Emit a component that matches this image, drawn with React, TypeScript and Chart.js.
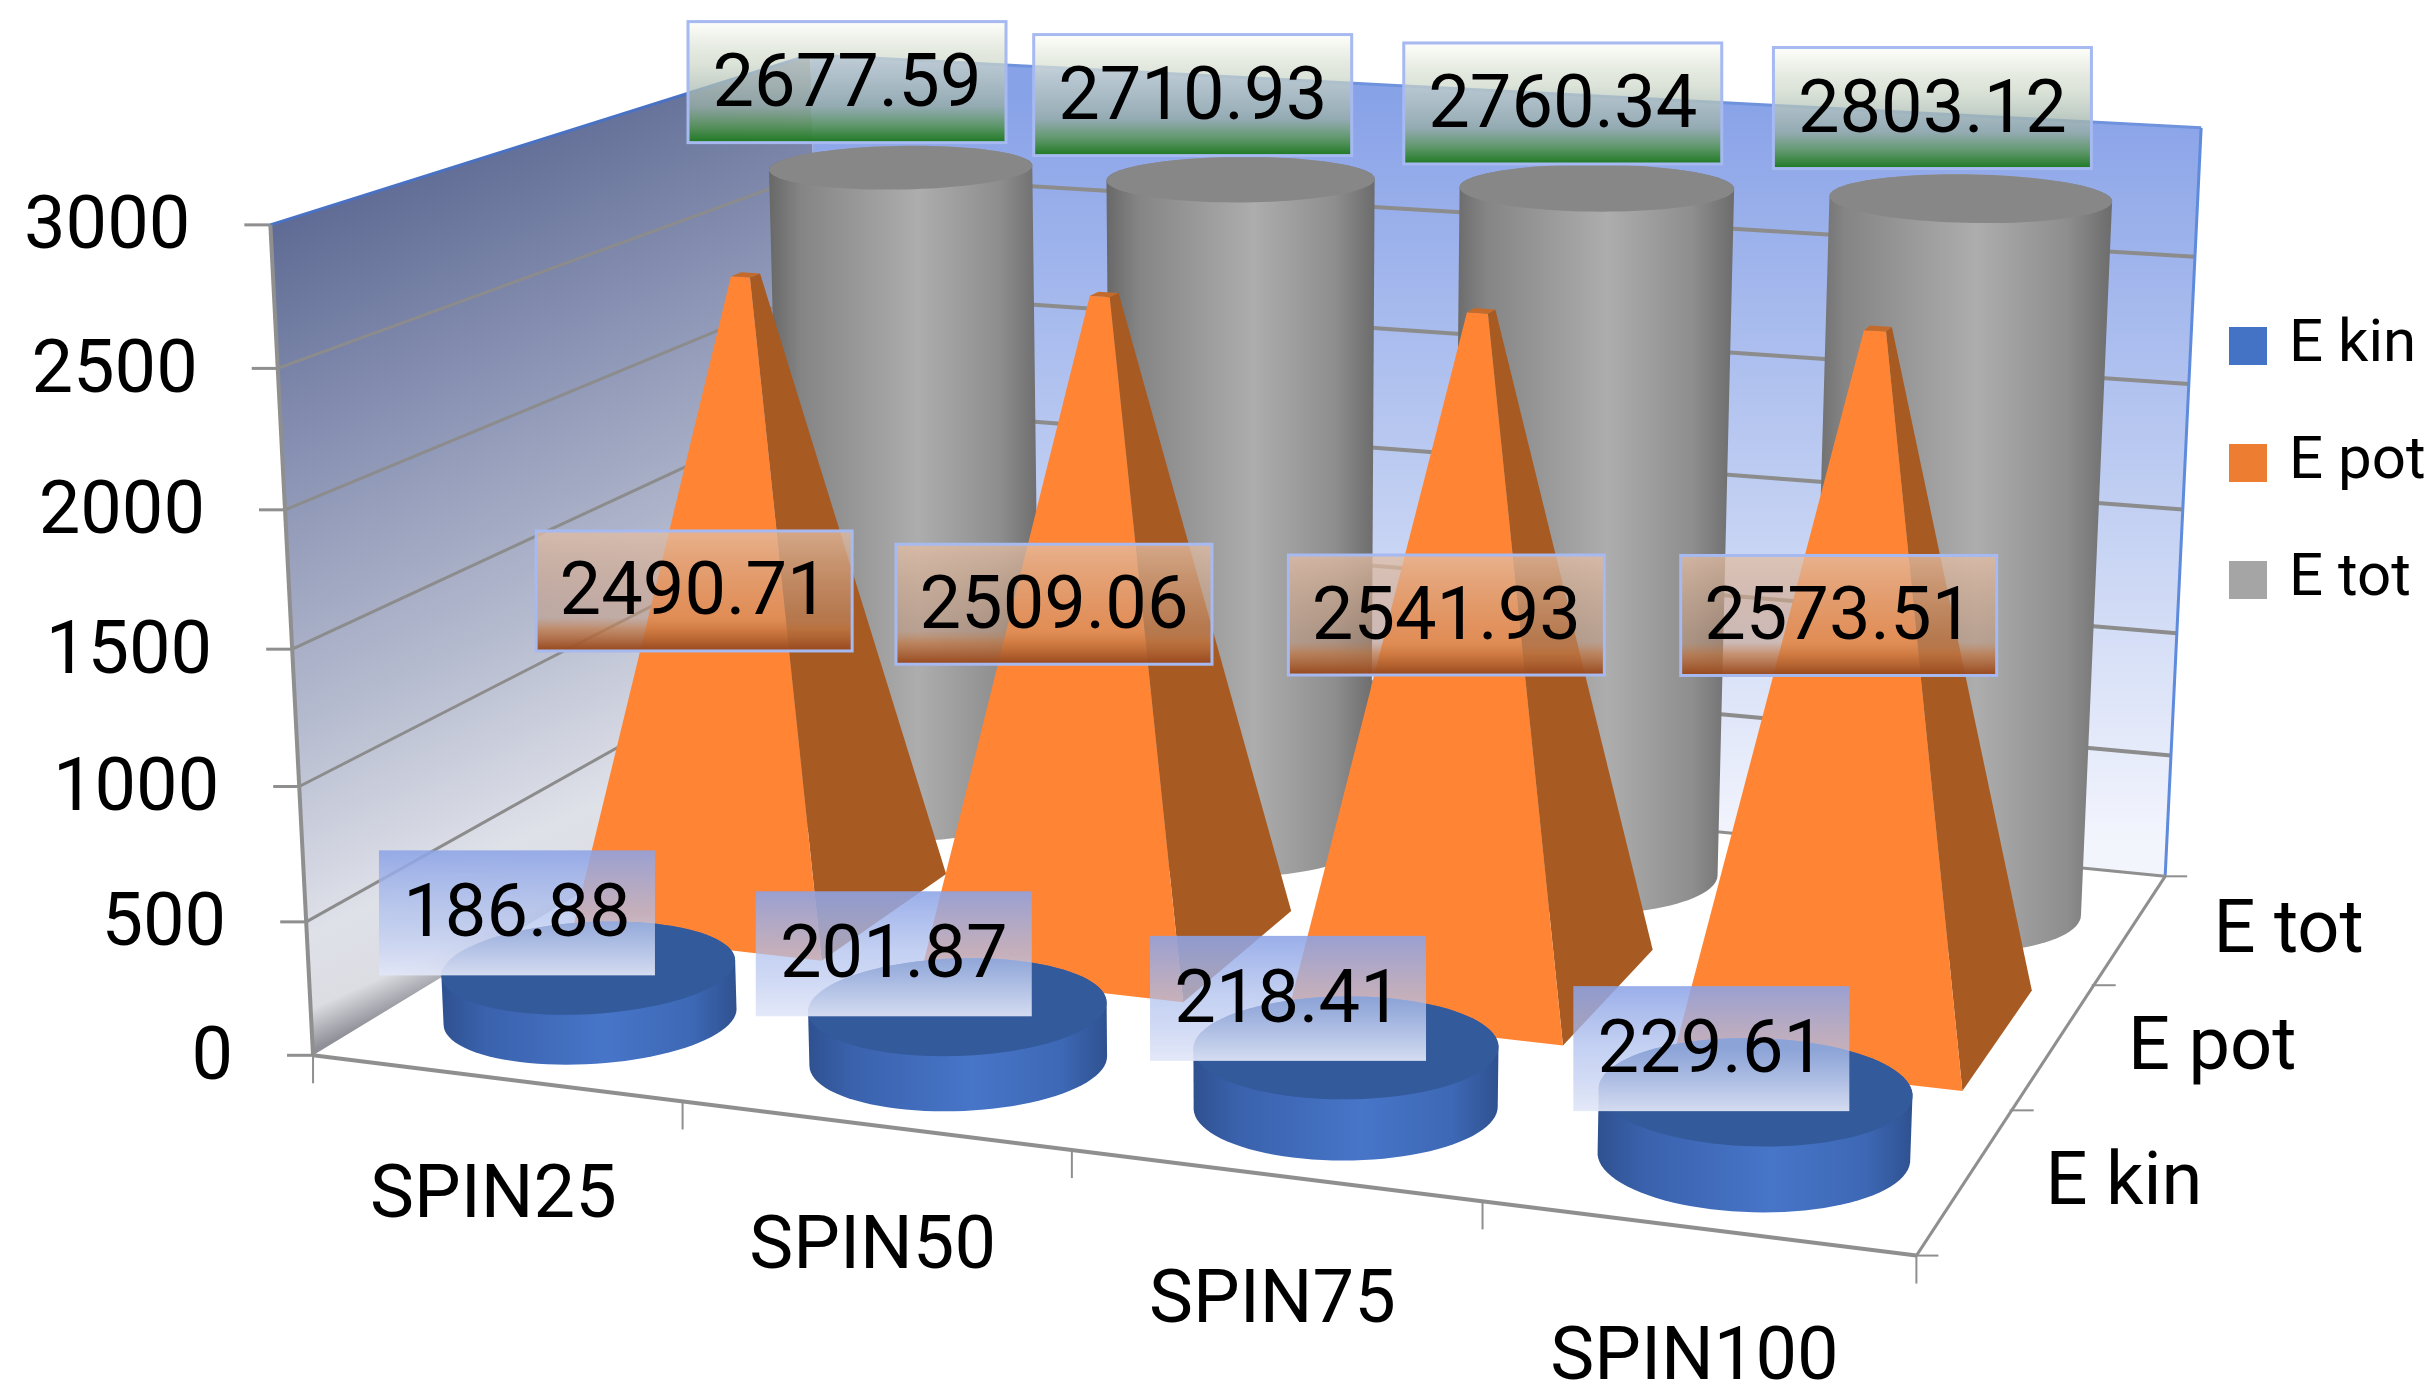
import React, { useEffect, useRef } from "react";
import { Chart, BarController, registerables } from "chart.js";

Chart.register(...registerables);

const categories = ["SPIN25", "SPIN50", "SPIN75", "SPIN100"];
const seriesNames = ["E kin", "E pot", "E tot"];
const eKin = [186.88, 201.87, 218.41, 229.61];
const ePot = [2490.71, 2509.06, 2541.93, 2573.51];
const eTot = [2677.59, 2710.93, 2760.34, 2803.12];
const yMax = 3000;
const yStep = 500;

const FONT = "Roboto, 'Open Sans', sans-serif";
const W = 2434;
const H = 1396;

// layout: camera calibration of the 3D box, [u, v, h] -> [px, py]
const CALIBRATION: number[][] = [
  [0, 0, 0, 311, 1051],
  [1, 0, 0, 1918, 1257],
  [1, 1, 0, 2164, 875],
  [0, 1, 0, 828, 747],
  [0, 0, 1, 271, 228],
  [1, 1, 1, 2201, 128],
  [0, 1, 1, 810, 52],
];

// layout: fine placement of the value boxes, pixels per series and category
const LABEL_NUDGE: number[][][] = [
  [[-2, 8], [6, 10], [12, 14], [26, 20]],
  [[-60, -3], [-53, -19], [-31, -37], [-28, -67]],
  [[-14, 20], [-8, 21], [6, 21], [2, 15]],
];

function solve(A: number[][], b: number[]) {
  const n = b.length;
  const M = A.map((r, i) => [...r, b[i]]);
  for (let c = 0; c < n; c++) {
    let p = c;
    for (let r = c + 1; r < n; r++) if (Math.abs(M[r][c]) > Math.abs(M[p][c])) p = r;
    [M[c], M[p]] = [M[p], M[c]];
    for (let r = 0; r < n; r++) {
      if (r === c) continue;
      const f = M[r][c] / M[c][c];
      for (let k = c; k <= n; k++) M[r][k] -= f * M[c][k];
    }
  }
  return M.map((r, i) => r[n] / r[i]);
}

function fitCamera() {
  const rows: number[][] = [];
  const rhs: number[] = [];
  for (const [x, y, z, X0, Y0] of CALIBRATION) {
    const X = X0 / 1000;
    const Y = Y0 / 1000;
    rows.push([x, y, z, 1, 0, 0, 0, 0, -X * x, -X * y, -X * z]);
    rhs.push(X);
    rows.push([0, 0, 0, 0, x, y, z, 1, -Y * x, -Y * y, -Y * z]);
    rhs.push(Y);
  }
  const n = 11;
  const AtA = Array.from({ length: n }, () => new Array(n).fill(0));
  const Atb = new Array(n).fill(0);
  rows.forEach((r, i) => {
    for (let a = 0; a < n; a++) {
      Atb[a] += r[a] * rhs[i];
      for (let b = 0; b < n; b++) AtA[a][b] += r[a] * r[b];
    }
  });
  return solve(AtA, Atb);
}
const CAM = fitCamera();
type P = [number, number];
function project(u: number, v: number, h: number): P {
  const w = CAM[8] * u + CAM[9] * v + CAM[10] * h + 1;
  return [
    (1000 * (CAM[0] * u + CAM[1] * v + CAM[2] * h + CAM[3])) / w,
    (1000 * (CAM[4] * u + CAM[5] * v + CAM[6] * h + CAM[7])) / w,
  ];
}

// world helpers that read through the chart's own scales
function worldU(chart: any, i: number) {
  const s = chart.scales.x;
  return (s.getPixelForValue(i) - s.left) / s.width;
}
function worldV(chart: any, j: number) {
  const s = chart.scales.z;
  return (s.getPixelForValue(j) - s.left) / s.width;
}
function worldH(chart: any, val: number) {
  const s = chart.scales.y;
  return (s.bottom - s.getPixelForValue(val)) / s.height;
}

function poly(ctx: CanvasRenderingContext2D, pts: P[]) {
  ctx.beginPath();
  pts.forEach((p, i) => (i ? ctx.lineTo(p[0], p[1]) : ctx.moveTo(p[0], p[1])));
  ctx.closePath();
}
function hull(points: P[]): P[] {
  const s = [...points].sort((a, b) => a[0] - b[0] || a[1] - b[1]);
  const cross = (o: P, a: P, b: P) => (a[0] - o[0]) * (b[1] - o[1]) - (a[1] - o[1]) * (b[0] - o[0]);
  const lo: P[] = [];
  for (const p of s) {
    while (lo.length >= 2 && cross(lo[lo.length - 2], lo[lo.length - 1], p) <= 0) lo.pop();
    lo.push(p);
  }
  const up: P[] = [];
  for (const p of s.slice().reverse()) {
    while (up.length >= 2 && cross(up[up.length - 2], up[up.length - 1], p) <= 0) up.pop();
    up.push(p);
  }
  return lo.slice(0, -1).concat(up.slice(0, -1));
}

const HALF_U = 0.09;
const HALF_V = 0.125;

function drawCylinder(ctx: CanvasRenderingContext2D, u: number, v: number, h: number, stops: [number, string][], topColor: string) {
  const bottom: P[] = [];
  const top: P[] = [];
  for (let a = 0; a < 96; a++) {
    const t = (a / 96) * Math.PI * 2;
    const cu = u + HALF_U * Math.cos(t);
    const cv = v + HALF_V * Math.sin(t);
    bottom.push(project(cu, cv, 0));
    top.push(project(cu, cv, h));
  }
  const shape = hull(bottom.concat(top));
  const xs = shape.map((p) => p[0]);
  const g = ctx.createLinearGradient(Math.min(...xs), 0, Math.max(...xs), 0);
  stops.forEach(([o, c]) => g.addColorStop(o, c));
  poly(ctx, shape);
  ctx.fillStyle = g;
  ctx.fill();
  poly(ctx, top);
  ctx.fillStyle = topColor;
  ctx.fill();
}

function drawPyramid(ctx: CanvasRenderingContext2D, u: number, v: number, h: number) {
  const k = 0.075;
  const b = (su: number, sv: number) => project(u + su * HALF_U, v + sv * 0.135, 0);
  const t = (su: number, sv: number) => project(u + su * HALF_U * k, v + sv * 0.135 * k, h);
  poly(ctx, [b(1, -1), b(1, 1), t(1, 1), t(1, -1)]);
  ctx.fillStyle = "#a75a22";
  ctx.fill();
  poly(ctx, [b(-1, -1), b(1, -1), t(1, -1), t(-1, -1)]);
  ctx.fillStyle = "#ff8433";
  ctx.fill();
  poly(ctx, [t(-1, -1), t(1, -1), t(1, 1), t(-1, 1)]);
  ctx.fillStyle = "#c46a2b";
  ctx.fill();
}

const GRAY_STOPS: [number, string][] = [
  [0, "#686868"],
  [0.12, "#858585"],
  [0.55, "#adadad"],
  [0.85, "#8e8e8e"],
  [1, "#6c6c6c"],
];
const BLUE_STOPS: [number, string][] = [
  [0, "#2f5190"],
  [0.15, "#3a62ad"],
  [0.55, "#4775c8"],
  [0.85, "#3d68b5"],
  [1, "#2f5190"],
];

class Shape3DController extends BarController {
  static id = "shape3d";
  draw() {
    const chart: any = this.chart;
    const ctx = chart.ctx;
    const j = this.index;
    const n = chart.data.labels.length;
    for (let i = 0; i < n; i++) {
      const val = (this as any).getParsed(i).y;
      const u = worldU(chart, i);
      const v = worldV(chart, j);
      const h = worldH(chart, val);
      if (j === 1) drawPyramid(ctx, u, v, h);
      else if (j === 2) drawCylinder(ctx, u, v, h, GRAY_STOPS, "#878787");
      else drawCylinder(ctx, u, v, h, BLUE_STOPS, "#335a9b");
    }
  }
}
Chart.register(Shape3DController as any);

function line(ctx: CanvasRenderingContext2D, a: P, b: P, color: string, width: number) {
  ctx.beginPath();
  ctx.moveTo(a[0], a[1]);
  ctx.lineTo(b[0], b[1]);
  ctx.strokeStyle = color;
  ctx.lineWidth = width;
  ctx.stroke();
}

const GRID = "#8c8c8c";
const AXIS = "#8f8f8f";
const TICK_FONT = `74px ${FONT}`;

const box3dPlugin = {
  id: "box3d",
  afterLayout(chart: any) {
    const l = chart.legend;
    l.left = 2180;
    l.right = W;
    l.top = 259;
    l.bottom = 800;
  },
  beforeDatasetsDraw(chart: any) {
    const ctx: CanvasRenderingContext2D = chart.ctx;
    const A = project(0, 0, 0);
    const B = project(1, 0, 0);
    const C = project(1, 1, 0);
    const D = project(0, 1, 0);
    const E = project(0, 0, 1);
    const F = project(1, 1, 1);
    const G = project(0, 1, 1);
    ctx.save();
    // walls
    const lg = ctx.createLinearGradient(271, 225, 587, 927);
    lg.addColorStop(0, "#5f6b94");
    lg.addColorStop(0.3, "#8a93b4");
    lg.addColorStop(0.6, "#b4bace");
    lg.addColorStop(0.86, "#dfe1e9");
    lg.addColorStop(0.95, "#dcdde3");
    lg.addColorStop(1, "#8f8f97");
    poly(ctx, [A, E, G, D]);
    ctx.fillStyle = lg;
    ctx.fill();
    const bg = ctx.createLinearGradient(0, 95, 0, 840);
    bg.addColorStop(0, "#88a2e8");
    bg.addColorStop(0.5, "#bccbf1");
    bg.addColorStop(1, "#f3f5fd");
    poly(ctx, [D, G, F, C]);
    ctx.fillStyle = bg;
    ctx.fill();
    // gridlines and y ticks
    const yScale = chart.scales.y;
    ctx.font = TICK_FONT;
    ctx.textAlign = "right";
    ctx.textBaseline = "middle";
    ctx.fillStyle = "#000";
    for (const t of yScale.ticks) {
      const h = worldH(chart, t.value);
      const a = project(0, 0, h);
      const d = project(0, 1, h);
      const c = project(1, 1, h);
      if (t.value > 0 && t.value < yMax) {
        line(ctx, a, d, GRID, 3);
        line(ctx, d, c, GRID, 4);
      }
      line(ctx, [a[0] - 26, a[1]], a, AXIS, 3);
      ctx.fillStyle = "#000";
      ctx.fillText(String(t.value), a[0] - 80, a[1] + 5);
    }
    line(ctx, E, G, "#4a72c4", 3);
    line(ctx, G, F, "#6f92dc", 3);
    line(ctx, F, C, "#5f8bdc", 3);
    // axes
    line(ctx, A, E, AXIS, 4);
    line(ctx, A, B, AXIS, 4);
    line(ctx, B, C, AXIS, 3);
    line(ctx, D, C, AXIS, 3);
    // category ticks and labels
    const xLabels: string[] = chart.scales.x.getLabels();
    ctx.textAlign = "center";
    for (let i = 0; i <= xLabels.length; i++) {
      const p = project(i / xLabels.length, 0, 0);
      line(ctx, p, [p[0], p[1] + 28], AXIS, 2);
    }
    xLabels.forEach((lab, i) => {
      const u = worldU(chart, i);
      const p = project(u, 0, 0);
      ctx.fillStyle = "#000";
      ctx.fillText(lab, p[0] - 2, p[1] + 118 + 16 * u);
    });
    // depth ticks and labels
    const zLabels: string[] = chart.scales.z.getLabels();
    for (let j = 0; j <= zLabels.length; j++) {
      const p = project(1, j / zLabels.length, 0);
      line(ctx, [p[0] - 2, p[1]], [p[0] + 22, p[1]], AXIS, 2);
    }
    zLabels.forEach((lab, j) => {
      const p = project(1, worldV(chart, j), 0);
      ctx.fillStyle = "#000";
      ctx.fillText(lab, p[0] + 158, p[1] + 5);
    });
    ctx.restore();
  },
  afterDatasetsDraw(chart: any) {
    const ctx: CanvasRenderingContext2D = chart.ctx;
    ctx.save();
    ctx.font = TICK_FONT;
    ctx.textAlign = "center";
    ctx.textBaseline = "middle";
    const styles = [
      { w: 276, h: 125, dh: 1, dx: -70, dy: -62, border: "", stops: [[0, "rgba(140,163,230,.88)"], [0.5, "rgba(175,192,238,.72)"], [1, "rgba(226,231,248,.92)"]] },
      { w: 316, h: 120, dh: 0.5, dx: 0, dy: 0, border: "#a6b9f0", stops: [[0, "rgba(226,190,165,.78)"], [0.72, "rgba(196,150,120,.5)"], [0.82, "rgba(192,120,70,.75)"], [1, "rgba(150,70,28,1)"]] },
      { w: 318, h: 121, dh: 1, dx: -40, dy: -105, border: "#a6b9f0", stops: [[0, "rgba(255,255,250,.92)"], [0.35, "rgba(205,215,200,.7)"], [0.7, "rgba(150,172,165,.8)"], [0.85, "rgba(90,150,90,.85)"], [1, "rgba(28,120,32,1)"]] },
    ];
    chart.data.datasets.forEach((ds: any, j: number) => {
      const st = styles[j];
      ds.data.forEach((val: number, i: number) => {
        const p = project(worldU(chart, i), worldV(chart, j), worldH(chart, val) * st.dh);
        const cx = p[0] + st.dx + LABEL_NUDGE[j][i][0];
        const cy = p[1] + st.dy + LABEL_NUDGE[j][i][1];
        const x = cx - st.w / 2;
        const y = cy - st.h / 2;
        const g = ctx.createLinearGradient(0, y, 0, y + st.h);
        st.stops.forEach(([o, c]) => g.addColorStop(o as number, c as string));
        ctx.fillStyle = g;
        ctx.fillRect(x, y, st.w, st.h);
        if (st.border) {
          ctx.strokeStyle = st.border;
          ctx.lineWidth = 3;
          ctx.strokeRect(x, y, st.w, st.h);
        }
        ctx.fillStyle = "#000";
        ctx.fillText(val.toFixed(2), cx, cy + 5);
      });
    });
    ctx.restore();
  },
};

export default function App() {
  const ref = useRef<HTMLCanvasElement>(null);
  useEffect(() => {
    const chart = new Chart(ref.current as HTMLCanvasElement, {
      type: "shape3d" as any,
      data: {
        labels: categories,
        datasets: [
          { label: seriesNames[0], data: eKin, backgroundColor: "#4472c4", borderWidth: 0 },
          { label: seriesNames[1], data: ePot, backgroundColor: "#ed7d31", borderWidth: 0 },
          { label: seriesNames[2], data: eTot, backgroundColor: "#a5a5a5", borderWidth: 0 },
        ],
      },
      options: {
        responsive: false,
        animation: false,
        devicePixelRatio: 1,
        scales: {
          x: { type: "category", offset: true, display: false },
          z: { type: "category", labels: seriesNames, axis: "x", position: "bottom", offset: true, display: false },
          y: { type: "linear", min: 0, max: yMax, ticks: { stepSize: yStep }, display: false },
        },
        plugins: {
          tooltip: { enabled: false },
          legend: {
            position: "right",
            align: "start",
            labels: {
              usePointStyle: true,
              pointStyle: "rect",
              boxWidth: 22,
              boxHeight: 38,
              padding: 57,
              color: "#000",
              font: { family: "Roboto", size: 60 },
            },
          },
        },
      } as any,
      plugins: [box3dPlugin as any],
    });
    return () => chart.destroy();
  }, []);
  return (
    <div style={{ position: "fixed", left: 0, top: 0, width: W, height: H, background: "#fff", overflow: "hidden" }}>
      <canvas ref={ref} width={W} height={H} style={{ display: "block" }} />
    </div>
  );
}
